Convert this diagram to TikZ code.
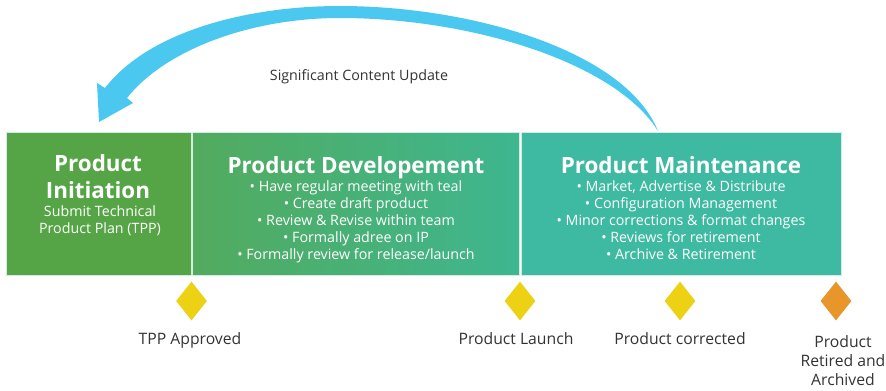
\documentclass[tikz,border=0pt]{standalone}
\usepackage{fontspec}
\setmainfont{Open Sans}
\usetikzlibrary{shapes.geometric}
\definecolor{cinit}{HTML}{55A546}
\definecolor{cdevL}{HTML}{52AB5E}
\definecolor{cdevR}{HTML}{3EB690}
\definecolor{cmaint}{HTML}{3FBAA2}
\definecolor{cedge}{HTML}{D2EDE3}
\definecolor{carrow}{HTML}{4BC8F0}
\definecolor{cyel}{HTML}{EDD114}
\definecolor{corange}{HTML}{E8962A}
\definecolor{ctext}{HTML}{333333}
\tikzset{
  phasebox/.style={draw=cedge, line width=0.6pt, anchor=north west, minimum height=107.25pt, inner sep=0pt},
  titletext/.style={text=white, font=\fontsize{16.8}{20}\selectfont\bfseries, anchor=base, inner sep=0pt},
  bullettext/.style={text=white, font=\fontsize{10.7}{12.75}\selectfont, align=center, anchor=base, inner sep=0pt},
  milestone/.style={diamond, minimum width=23.25pt, minimum height=29.25pt, inner sep=0pt, shape aspect=0.8},
  mlabel/.style={text=ctext, font=\fontsize{11.8}{13.9}\selectfont, align=center, anchor=base, inner sep=0pt}
}
\begin{document}
\begin{tikzpicture}[x=0.75pt,y=-0.75pt]
\useasboundingbox (0,0) rectangle (886,390);

% phase boxes
\node[phasebox, fill=cinit, minimum width=138.75pt] (init) at (6,132) {};
\node[phasebox, left color=cdevL, right color=cdevR, minimum width=245.25pt] (dev) at (192,132) {};
\node[phasebox, fill=cmaint, minimum width=240pt] (maint) at (521,132) {};

% Product Initiation text (base = last line's baseline)
\node[titletext] (initT1) at (98,171) {Product};
\node[titletext] (initT2) at (98,198) {Initiation};
\node[bullettext] (initB) at (100,233) {Submit Technical\\Product Plan (TPP)};

% Product Developement text
\node[titletext] (devT) at (356,173) {Product Developement};
\node[bullettext] (devB) at (356,259) {• Have regular meeting with teal\\
• Create draft product\\
• Review \& Revise within team\\
• Formally adree on IP\\
• Formally review for release/launch};

% Product Maintenance text
\node[titletext] (maintT) at (681,173) {Product Maintenance};
\node[bullettext] (maintB) at (681,259) {• Market, Advertise \& Distribute\\
• Configuration Management\\
• Minor corrections \& format changes\\
• Reviews for retirement\\
• Archive \& Retirement};

% milestones
\node[milestone, fill=cyel] (m1) at (191.5,301) {};
\node[milestone, fill=cyel] (m2) at (520,301) {};
\node[milestone, fill=cyel] (m3) at (680,301) {};
\node[milestone, fill=corange] (m4) at (836,301) {};

\node[mlabel] (l1) at (190,344) {TPP Approved};
\node[mlabel] (l2) at (516,344) {Product Launch};
\node[mlabel] (l3) at (680,344) {Product corrected};
\node[mlabel] (l4) at (843,385) {Product\\Retired and\\Archived};

% curved feedback arrow
\coordinate (astart) at (658,131);
\coordinate (atip) at (99,122);
\fill[carrow] (astart)
  .. controls (615,62) and (470,18) .. (340,18)
  .. controls (250,18) and (165,50) .. (127,98)
  -- (133,103) -- (atip) -- (97,83) -- (105,88)
  .. controls (150,30) and (250,6) .. (340,6)
  .. controls (470,6) and (625,50) .. (astart) -- cycle;

\node[text=ctext, font=\fontsize{10.7}{12}\selectfont, anchor=base, inner sep=0pt] (upd) at (359,80) {Significant Content Update};

\end{tikzpicture}
\end{document}
